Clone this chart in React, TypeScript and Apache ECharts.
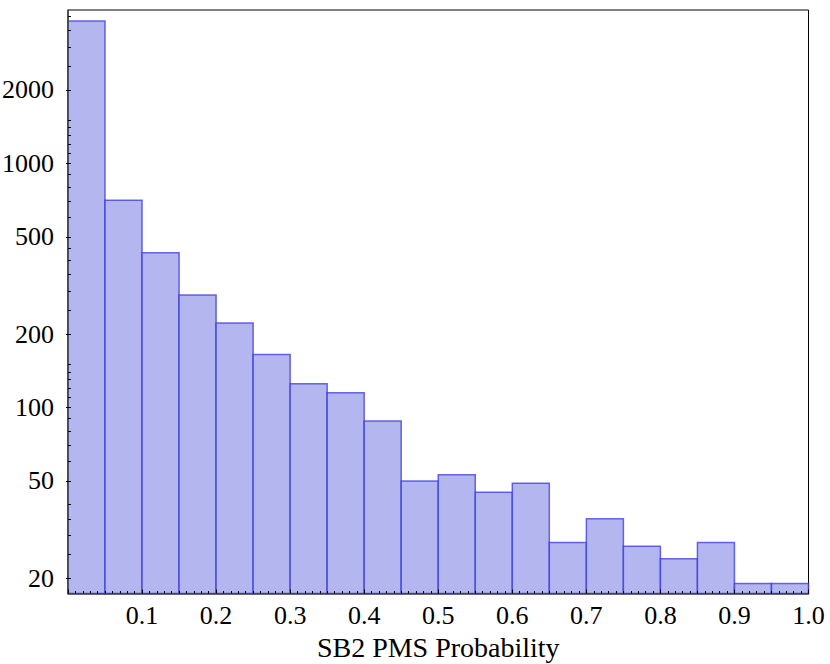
import React, { useEffect, useRef } from "react";
import * as echarts from "echarts";

const binStarts = [0, 0.05, 0.1, 0.15, 0.2, 0.25, 0.3, 0.35, 0.4, 0.45, 0.5, 0.55, 0.6, 0.65, 0.7, 0.75, 0.8, 0.85, 0.9, 0.95];
const binWidth = 0.05;
const counts = [3830, 707, 430, 289, 222, 165, 125, 115, 88, 50, 53, 45, 49, 28, 35, 27, 24, 28, 19, 19];
const yMajorTicks = [20, 50, 100, 200, 500, 1000, 2000];
const yMinorTicks = [25, 30, 35, 40, 60, 70, 80, 90, 110, 120, 130, 140, 150, 250, 300, 350, 400, 450, 600, 700, 800, 900, 1100, 1200, 1300, 1400, 1500, 2500, 3000, 3500, 4000];
const yMin = 17.3;
const yMax = 4250;
const xLabel = "SB2 PMS Probability";

const FONT = "'Liberation Serif', 'Times New Roman', serif";

export default function App() {
  const ref = useRef<HTMLDivElement>(null);
  useEffect(() => {
    if (!ref.current) return;
    const chart = echarts.init(ref.current, undefined, { renderer: "svg" });
    const data = binStarts.map((s, i) => [s, s + binWidth, counts[i]]);
    chart.setOption({
      animation: false,
      backgroundColor: "#fff",
      grid: {
        left: 68,
        right: 21.5,
        top: 10,
        bottom: 70.5,
        outerBoundsMode: "none",
        containLabel: false,
        show: true,
        borderColor: "#000",
        borderWidth: 1,
        backgroundColor: "transparent",
      },
      xAxis: {
        type: "value",
        min: 0,
        max: 1,
        interval: 0.1,
        name: xLabel,
        nameLocation: "middle",
        nameGap: 40,
        nameTextStyle: { fontFamily: FONT, fontSize: 28, color: "#000" },
        z: 5,
        axisLine: { show: true, lineStyle: { color: "#444", width: 1.5 } },
        axisTick: { show: true, inside: true, length: 4, lineStyle: { color: "#000", width: 1 } },
        minorTick: { show: true, splitNumber: 10, length: 2.5, lineStyle: { color: "#000", width: 1 } },
        splitLine: { show: false },
        axisLabel: {
          fontFamily: FONT,
          fontSize: 26,
          color: "#000",
          margin: 9,
          formatter: (v: number) => (v === 0 ? "" : v.toFixed(1)),
        },
      },
      yAxis: [
        {
          type: "log",
          logBase: 10,
          min: yMin,
          max: yMax,
          position: "left",
          z: 5,
          axisLine: { show: true, lineStyle: { color: "#444", width: 1.5 } },
          axisTick: { show: true, inside: false, length: 2, customValues: yMajorTicks, lineStyle: { color: "#000", width: 1 } },
          splitLine: { show: false },
          axisLabel: {
            customValues: yMajorTicks,
            fontFamily: FONT,
            fontSize: 26,
            color: "#000",
            margin: 14,
            formatter: (v: number) => String(Math.round(v)),
          },
        },
        {
          type: "log",
          logBase: 10,
          min: yMin,
          max: yMax,
          position: "left",
          offset: 0,
          z: 5,
          axisLine: { show: false },
          axisTick: {
            show: true,
            inside: true,
            length: 3,
            customValues: [...yMajorTicks, ...yMinorTicks],
            lineStyle: { color: "#000", width: 1 },
          },
          splitLine: { show: false },
          axisLabel: { show: false },
        },
      ],
      series: [
        {
          type: "custom",
          xAxisIndex: 0,
          yAxisIndex: 0,
          data,
          renderItem: (params: any, api: any) => {
            const x0 = api.value(0);
            const x1 = api.value(1);
            const c = api.value(2);
            const p0 = api.coord([x0, c]);
            const p1 = api.coord([x1, yMin]);
            return {
              type: "rect",
              shape: { x: p0[0], y: p0[1], width: p1[0] - p0[0], height: p1[1] - p0[1] },
              style: { fill: "#b4b6ef", stroke: "rgba(45,45,222,0.7)", lineWidth: 1.5 },
            };
          },
        },
      ],
    });
    return () => chart.dispose();
  }, []);
  return (
    <div
      ref={ref}
      style={{ position: "fixed", left: 0, top: 0, width: 830, height: 664, background: "#fff" }}
    />
  );
}
